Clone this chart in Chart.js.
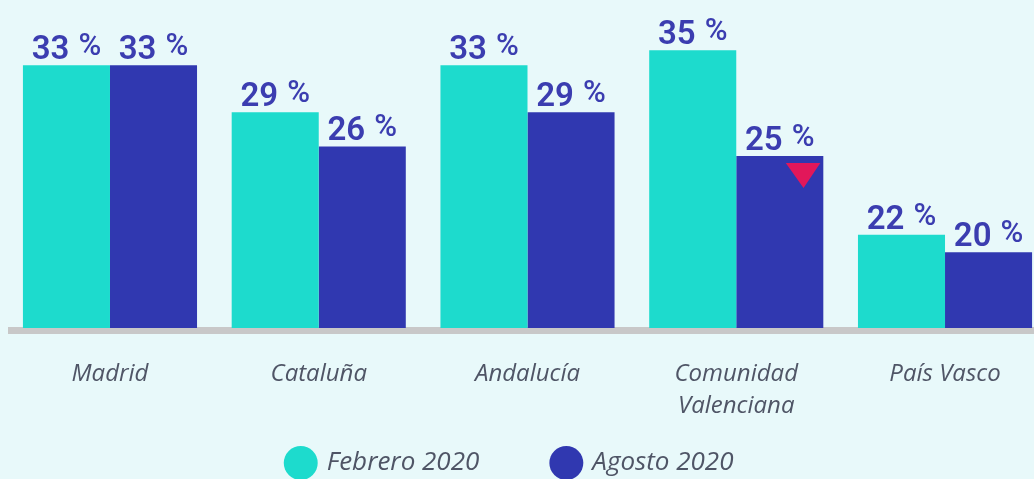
<!DOCTYPE html>
<html>
<head>
<meta charset="utf-8">
<script src="https://cdn.jsdelivr.net/npm/chart.js@4.4.0/dist/chart.umd.min.js"></script>
<style>
html,body{margin:0;padding:0;background:#e8f9fa;overflow:hidden;}
#wrap{width:1050px;height:486px;}
</style>
</head>
<body>
<div id="wrap"><canvas id="chart" width="1050" height="486"></canvas></div>
<script>
// categorias y series
const regiones=["Madrid","Cataluña","Andalucía",["Comunidad","Valenciana"],"País Vasco"];
const series=["Febrero 2020","Agosto 2020"];

// porcentajes escritos sobre cada barra
const pctFebrero=[33,29,33,35,22];
const pctAgosto=[33,26,29,25,20];

// largo de las barras tal como se dibujan (escala calibrada con Madrid = 33)
const barraFebrero=[33,27.1,33,34.9,11.7];
const barraAgosto=[33,22.8,27.1,21.6,9.5];

// bajada marcada con triangulo (serie agosto)
const bajadaAgosto=[false,false,false,true,false];

const cTeal="#1ddbcd";
const cAzul="#3038b0";
const cTexto="#3b3db0";
const cGris="#4f5566";

const baseLine={
id:"baseLine",
beforeDatasetsDraw(chart){
const ctx=chart.ctx;
const b=chart.chartArea.bottom;
ctx.save();
ctx.fillStyle="#c8c8c8";
ctx.fillRect(8,b-1,chart.width,7);
ctx.restore();
}
};

const etiquetas={
id:"etiquetas",
afterDatasetsDraw(chart){
const ctx=chart.ctx;
const pcts=[pctFebrero,pctAgosto];
ctx.save();
ctx.fillStyle=cTexto;
ctx.textBaseline="alphabetic";
ctx.textAlign="left";
chart.data.datasets.forEach((ds,i)=>{
chart.getDatasetMeta(i).data.forEach((bar,j)=>{
let num=String(pcts[i][j]);
ctx.font="600 33px Roboto";
let w1=ctx.measureText(num).width;
ctx.font="500 31px Roboto";
let w2=ctx.measureText("%").width;
let gap=9;
let x0=bar.x-(w1+gap+w2)/2;
let y=bar.y-6;
ctx.font="600 33px Roboto";
ctx.fillText(num,x0,y);
ctx.font="500 31px Roboto";
ctx.fillText("%",x0+w1+gap,y-4);

if(i===1&&bajadaAgosto[j]){
ctx.fillStyle="#e2175a";
ctx.beginPath();
ctx.moveTo(bar.x+6,bar.y+7);
ctx.lineTo(bar.x+bar.width/2-3,bar.y+7);
ctx.lineTo(bar.x+bar.width/4+2,bar.y+32);
ctx.closePath();
ctx.fill();
ctx.fillStyle=cTexto;
}
});
});
ctx.restore();
}
};

new Chart(document.getElementById("chart"),{
type:"bar",
data:{
labels:regiones,
datasets:[
{label:series[0],data:barraFebrero,backgroundColor:cTeal},
{label:series[1],data:barraAgosto,backgroundColor:cAzul}
]
},
options:{
responsive:false,
animation:false,
layout:{padding:{left:5.6,right:0.6,top:0,bottom:0}},
datasets:{bar:{categoryPercentage:0.834,barPercentage:1}},
scales:{
x:{
grid:{display:false},
border:{display:false},
afterFit(s){s.height=102;},
ticks:{
color:cGris,
maxRotation:0,
autoSkip:false,
padding:22,
font:{family:"Open Sans",size:24,style:"italic",lineHeight:1.35}
}
},
y:{display:false,min:0,max:41.2}
},
plugins:{
legend:{
position:"bottom",
labels:{
usePointStyle:true,
pointStyle:"circle",
boxHeight:24,
color:cGris,
padding:20,
font:{family:"Open Sans",size:26,style:"italic"},
generateLabels(chart){
const items=Chart.defaults.plugins.legend.labels.generateLabels(chart);
items[0].text=items[0].text+"        ";
items[1].text=items[1].text+"     ";
return items;
}
}
},
tooltip:{enabled:false}
}
},
plugins:[baseLine,etiquetas]
});
</script>
</body>
</html>
